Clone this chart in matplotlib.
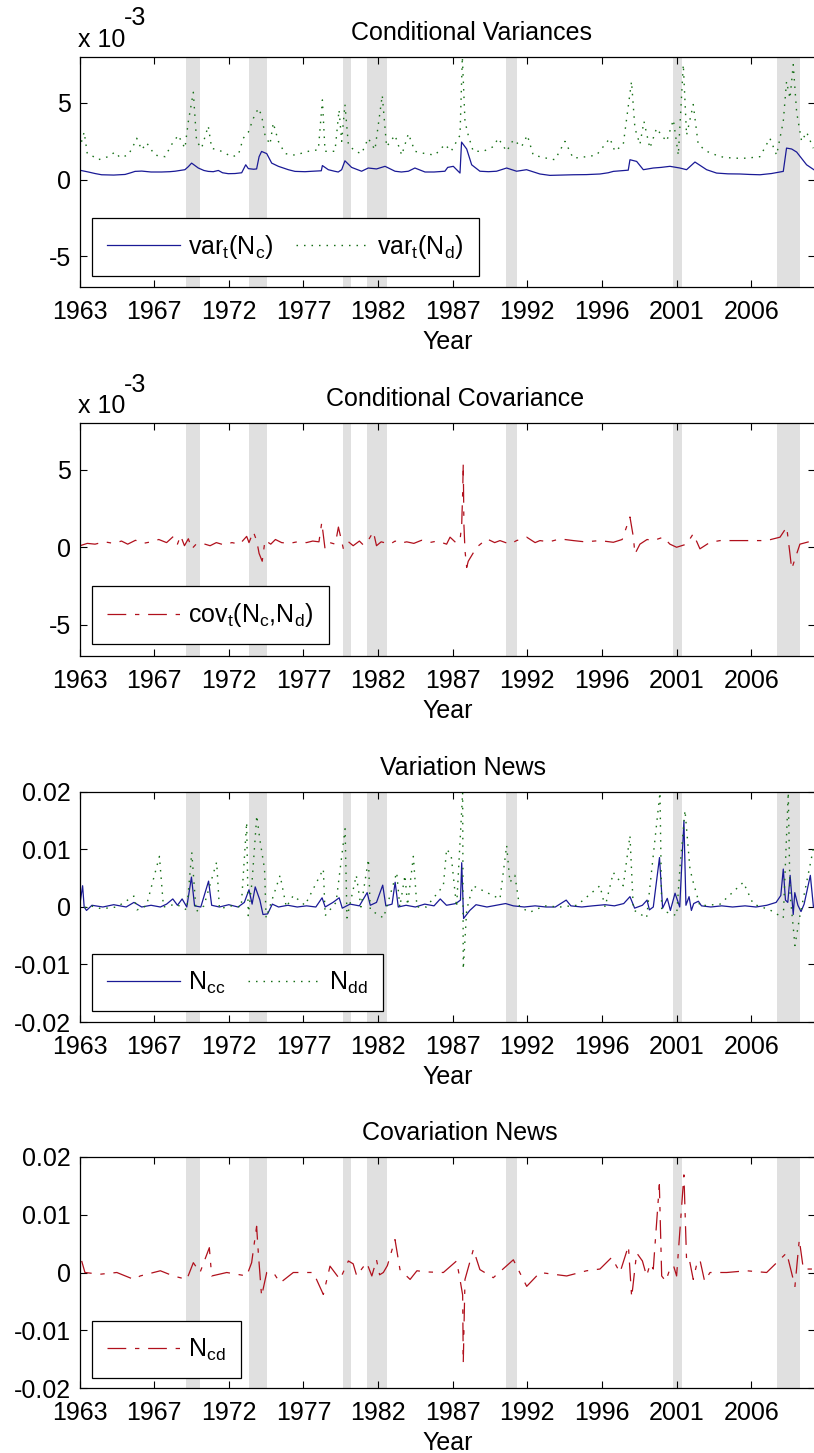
#!/usr/bin/env python3
"""Conditional variances / covariance and news terms, 1963-2010 (MATLAB-style panels)."""

import matplotlib
matplotlib.use("Agg")
import matplotlib.pyplot as plt
from matplotlib.ticker import FixedLocator, FixedFormatter

plt.rcParams["font.family"] = ["Liberation Sans", "DejaVu Sans"]
plt.rcParams["mathtext.fontset"] = "custom"
plt.rcParams["mathtext.rm"] = "Liberation Sans"
plt.rcParams["mathtext.it"] = "Liberation Sans:italic"

# --- recession bands (decimal years) ---
REC_START = [1969.85, 1973.87, 1979.95, 1981.5, 1990.45, 2001.15, 2007.85]
REC_END = [1970.75, 1975.08, 1980.45, 1982.8, 1991.15, 2001.75, 2009.35]

# x tick labels (equally spaced observation ticks)
TICK_LABELS = ["1963", "1967", "1972", "1977", "1982", "1987", "1992", "1996", "2001", "2006"]
TICK_POS = [1963.0, 1967.8, 1972.6, 1977.4, 1982.2, 1987.0, 1991.8, 1996.6, 2001.4, 2006.2]

# --- panel 1: conditional variances (x 1e-3) ---
VARC_X = [1963.0, 1963.57, 1964.0, 1964.42, 1965.2, 1965.93, 1966.3, 1966.57, 1967.0, 1967.6,
          1968.28, 1968.8, 1969.14, 1969.78, 1970.0, 1970.21, 1970.64, 1971.0, 1971.28, 1971.6,
          1971.93, 1972.2, 1972.57, 1973.0, 1973.43, 1973.69, 1973.86, 1974.2, 1974.39, 1974.55,
          1974.71, 1975.04, 1975.36, 1975.79, 1976.43, 1976.86, 1977.5, 1978.0, 1978.55, 1978.62,
          1979.0, 1979.4, 1979.64, 1979.86, 1980.07, 1980.5, 1981.14, 1981.57, 1982.1, 1982.65,
          1983.29, 1983.7, 1984.15, 1984.57, 1985.22, 1985.8, 1986.5, 1986.68, 1987.04, 1987.47,
          1987.57, 1987.9, 1988.22, 1988.75, 1989.3, 1989.82, 1990.47, 1991.11, 1991.75, 1992.61,
          1993.25, 1994.0, 1994.75, 1995.6, 1996.47, 1997.0, 1997.33, 1998.29, 1998.4, 1998.83,
          1999.26, 1999.9, 2000.4, 2000.97, 2001.61, 2002.04, 2002.58, 2003.33, 2003.97, 2004.7,
          2005.47, 2006.1, 2006.76, 2007.5, 2008.26, 2008.47, 2008.8, 2009.12, 2009.76, 2010.3]
VARC_Y = [0.62, 0.5, 0.4, 0.32, 0.3, 0.34, 0.45, 0.54, 0.56, 0.5,
          0.5, 0.52, 0.55, 0.65, 0.85, 1.08, 0.76, 0.6, 0.54, 0.52,
          0.6, 0.45, 0.39, 0.4, 0.45, 0.97, 0.72, 0.68, 0.7, 1.5,
          1.84, 1.7, 1.08, 0.87, 0.65, 0.54, 0.52, 0.55, 0.58, 0.92,
          0.65, 0.55, 0.5, 0.65, 1.23, 0.8, 0.55, 0.76, 0.7, 0.87,
          0.55, 0.5, 0.55, 0.76, 0.5, 0.5, 0.55, 0.8, 0.87, 0.43,
          2.45, 2.0, 0.97, 0.55, 0.52, 0.55, 0.76, 0.55, 0.65, 0.37,
          0.28, 0.3, 0.32, 0.33, 0.37, 0.45, 0.54, 0.62, 1.3, 1.19,
          0.65, 0.76, 0.8, 0.87, 0.76, 0.65, 1.15, 0.65, 0.43, 0.38,
          0.37, 0.34, 0.32, 0.4, 0.54, 2.06, 2.0, 1.8, 0.97, 0.6]

VARD_X = [1963.0, 1963.3, 1963.5, 1963.75, 1964.2, 1964.85, 1965.28, 1965.6, 1966.14, 1966.5,
          1966.68, 1967.0, 1967.32, 1967.85, 1968.5, 1968.93, 1969.35, 1969.78, 1970.0, 1970.32,
          1970.53, 1970.85, 1971.28, 1971.5, 1972.14, 1972.78, 1973.21, 1973.53, 1973.86, 1974.18,
          1974.5, 1974.71, 1974.93, 1975.25, 1975.46, 1975.79, 1976.22, 1976.86, 1977.72, 1978.36,
          1978.62, 1978.79, 1979.43, 1979.69, 1979.86, 1980.07, 1980.29, 1980.72, 1981.14, 1981.57,
          1982.0, 1982.47, 1982.75, 1983.29, 1983.72, 1984.15, 1984.57, 1985.22, 1985.86, 1986.5,
          1986.9, 1987.47, 1987.62, 1987.79, 1988.0, 1988.32, 1988.97, 1989.61, 1989.93, 1990.47,
          1990.9, 1991.43, 1991.8, 1992.18, 1993.04, 1993.58, 1994.22, 1994.75, 1995.61, 1996.25,
          1997.11, 1997.43, 1997.97, 1998.5, 1998.72, 1999.04, 1999.3, 1999.68, 2000.11, 2000.43,
          2000.76, 2001.19, 2001.51, 2001.83, 2002.04, 2002.47, 2002.79, 2003.33, 2004.19, 2005.04,
          2005.9, 2006.76, 2007.4, 2007.83, 2008.26, 2008.47, 2008.69, 2008.9, 2009.12, 2009.44,
          2009.76, 2010.19]
VARD_Y = [2.0, 3.1, 1.7, 1.6, 1.3, 1.5, 1.8, 1.45, 1.6, 2.3,
          2.7, 1.95, 2.4, 1.6, 1.5, 2.3, 2.9, 2.05, 3.8, 5.7,
          2.5, 2.05, 3.5, 2.05, 1.85, 1.5, 1.6, 2.7, 3.1, 4.0,
          4.65, 4.2, 2.9, 2.3, 3.7, 2.5, 1.7, 1.6, 1.85, 1.95,
          5.2, 1.85, 1.85, 4.55, 2.5, 4.9, 2.3, 1.85, 1.7, 2.7,
          1.95, 5.5, 2.15, 2.9, 1.6, 3.0, 1.85, 1.7, 1.6, 2.3,
          1.85, 2.9, 8.0, 3.8, 2.9, 1.85, 1.85, 2.15, 2.7, 1.85,
          2.6, 2.15, 2.9, 1.6, 1.4, 1.3, 2.5, 1.4, 1.5, 1.6,
          2.7, 1.85, 2.3, 6.4, 3.35, 2.3, 3.8, 2.05, 3.35, 2.9,
          2.5, 3.9, 1.6, 7.5, 2.9, 4.9, 2.3, 1.85, 1.5, 1.4,
          1.4, 1.5, 2.7, 1.6, 3.8, 6.4, 5.3, 7.5, 4.4, 2.5,
          3.1, 2.05]

# --- panel 2: conditional covariance (x 1e-3) ---
COV_X = [1963.03, 1963.5, 1964.0, 1964.6, 1965.2, 1965.7, 1966.1, 1966.6, 1967.1, 1967.6,
         1968.1, 1968.6, 1969.04, 1969.3, 1969.5, 1969.75, 1970.0, 1970.22, 1970.5, 1970.9,
         1971.4, 1971.8, 1972.3, 1972.8, 1973.3, 1973.75, 1973.9, 1974.18, 1974.4, 1974.55,
         1974.75, 1974.93, 1975.3, 1975.6, 1976.0, 1976.5, 1977.0, 1977.6, 1978.0, 1978.4,
         1978.58, 1978.79, 1979.1, 1979.45, 1979.65, 1979.97, 1980.3, 1980.6, 1981.0, 1981.25,
         1981.6, 1981.9, 1982.1, 1982.4, 1982.97, 1983.3, 1983.61, 1984.04, 1984.5, 1985.0,
         1985.5, 1986.0, 1986.61, 1986.83, 1987.2, 1987.47, 1987.58, 1987.64, 1987.68, 1987.72,
         1987.79, 1987.9, 1988.0, 1988.54, 1989.2, 1989.7, 1990.04, 1990.68, 1991.11, 1991.76,
         1992.3, 1992.61, 1993.2, 1993.9, 1994.76, 1995.5, 1996.47, 1997.33, 1997.9, 1998.4,
         1998.62, 1998.72, 1999.04, 1999.5, 1999.9, 2000.54, 2000.97, 2001.4, 2002.04, 2002.47,
         2002.9, 2003.55, 2004.2, 2005.1, 2006.1, 2007.19, 2008.05, 2008.48, 2008.69, 2008.8,
         2009.12, 2009.33, 2010.19]
COV_Y = [0.1, 0.25, 0.2, 0.35, 0.25, 0.4, 0.2, 0.45, 0.25, 0.35,
         0.5, 0.3, 0.7, 0.2, 0.75, 0.1, 0.55, -0.1, 0.2, 0.25,
         0.1, 0.3, 0.15, 0.3, 0.2, 0.7, 0.3, 1.0, 0.4, -0.4,
         -0.9, 0.45, 0.2, 0.5, 0.3, 0.25, 0.35, 0.3, 0.4, 0.35,
         1.6, -0.1, 0.3, 0.2, 1.3, -0.1, 0.35, 0.1, 0.4, 0.15,
         0.5, 1.0, 0.1, 0.35, 0.2, 0.4, 0.25, 0.35, 0.25, 0.45,
         0.3, 0.4, 0.2, 0.65, 0.3, 0.43, 1.5, 3.45, 5.4, 1.5,
         -0.2, -1.3, -0.9, 0.0, 0.54, 0.3, 0.43, 0.2, 0.43, 0.65,
         0.3, 0.43, 0.35, 0.54, 0.43, 0.35, 0.43, 0.32, 0.5, 1.95,
         0.65, -0.43, 0.2, 0.5, 0.43, 0.65, 0.2, 0.0, 0.2, 0.87,
         -0.1, 0.32, 0.43, 0.43, 0.43, 0.43, 0.65, 1.3, -0.43, -1.4,
         -0.43, 0.2, 0.43]

# --- panel 3: variation news ---
NCC_X = [1963.0, 1963.2, 1963.3, 1963.45, 1963.8, 1964.5, 1965.2, 1966.0, 1966.5, 1967.0,
         1967.6, 1968.2, 1968.6, 1969.0, 1969.3, 1969.6, 1969.9, 1970.2, 1970.4, 1970.8,
         1971.3, 1971.5, 1972.0, 1972.6, 1973.2, 1973.6, 1973.9, 1974.1, 1974.3, 1974.6,
         1974.8, 1975.1, 1975.4, 1975.8, 1976.4, 1977.0, 1977.6, 1978.2, 1978.6, 1978.8,
         1979.3, 1979.7, 1979.9, 1980.4, 1981.0, 1981.5, 1981.7, 1982.1, 1982.5, 1982.7,
         1983.1, 1983.3, 1983.5, 1984.0, 1984.6, 1985.2, 1985.8, 1986.2, 1986.6, 1987.2,
         1987.5, 1987.58, 1987.7, 1988.1, 1988.5, 1989.2, 1989.8, 1990.4, 1990.9, 1991.6,
         1992.3, 1993.0, 1993.6, 1994.3, 1994.6, 1995.3, 1996.0, 1996.8, 1997.4, 1998.0,
         1998.4, 1998.7, 1999.2, 1999.5, 1999.65, 1999.9, 2000.3, 2000.5, 2000.8, 2001.0,
         2001.3, 2001.6, 2001.87, 2002.0, 2002.2, 2002.35, 2002.5, 2002.8, 2003.0, 2003.6,
         2004.3, 2005.0, 2005.8, 2006.5, 2007.2, 2007.8, 2008.1, 2008.26, 2008.4, 2008.55,
         2008.7, 2008.9, 2009.0, 2009.2, 2009.4, 2009.6, 2010.0, 2010.2]
NCC_Y = [0.0, 0.0037, 0.0, -0.0006, 0.0003, 0.0, 0.0004, 0.0, 0.0008, 0.0,
         0.0003, 0.0, 0.0005, 0.0014, 0.0003, 0.0014, 0.0, 0.0052, 0.0002, 0.0,
         0.0045, 0.0003, 0.0, 0.0004, 0.0, 0.0008, 0.003, 0.0005, 0.0035, 0.0012,
         -0.0013, -0.0012, 0.0005, 0.0, 0.0003, 0.0, 0.0002, 0.0, 0.0016, 0.0,
         0.0008, 0.0016, -0.0002, 0.0005, 0.0002, 0.0025, 0.0003, 0.0008, 0.0038, 0.0002,
         0.0005, 0.0043, 0.0, 0.0003, 0.0, 0.0005, 0.0002, 0.0014, 0.0003, 0.0006,
         0.0012, 0.0077, -0.002, -0.0006, 0.0004, 0.0, 0.0003, 0.0006, 0.0002, 0.0,
         0.0002, 0.0, 0.0, 0.0012, 0.0002, 0.0, 0.0002, 0.0004, 0.0002, 0.0006,
         0.0018, -0.0002, 0.0003, 0.0012, -0.0005, 0.0, 0.0086, -0.0002, 0.0015, -0.0006,
         0.0024, 0.0, 0.015, 0.0003, 0.0018, -0.0006, 0.0006, 0.001, 0.0002, 0.0,
         0.0002, 0.0, 0.0002, 0.0, 0.0003, 0.0008, 0.002, 0.0066, 0.0012, 0.0008,
         0.0055, -0.0013, 0.0025, 0.0003, -0.0008, 0.0005, 0.0055, 0.0]

NDD_X = [1963.0, 1963.15, 1963.6, 1964.4, 1965.4, 1966.5, 1966.7, 1967.3, 1968.14, 1968.4,
         1969.2, 1969.9, 1970.22, 1970.5, 1971.0, 1971.82, 1972.0, 1972.8, 1973.4, 1973.75,
         1973.85, 1974.1, 1974.4, 1974.6, 1974.9, 1975.0, 1975.9, 1976.3, 1976.75, 1977.5,
         1978.68, 1978.8, 1979.5, 1980.08, 1980.2, 1980.8, 1981.1, 1981.58, 1981.7, 1982.55,
         1983.4, 1983.6, 1983.93, 1984.1, 1984.47, 1984.7, 1985.3, 1986.4, 1986.61, 1986.9,
         1987.25, 1987.64, 1987.68, 1987.9, 1988.3, 1990.04, 1990.47, 1990.68, 1991.0, 1991.3,
         1991.97, 1992.9, 1993.9, 1995.0, 1996.47, 1996.8, 1997.33, 1997.97, 1998.4, 1998.62,
         1999.47, 2000.33, 2000.44, 2000.76, 2001.4, 2001.62, 2001.94, 2002.26, 2002.47, 2002.9,
         2004.2, 2005.69, 2006.33, 2007.4, 2008.26, 2008.58, 2008.69, 2009.01, 2009.33, 2010.19]
NDD_Y = [0.0, -0.0005, 0.0003, -0.0003, 0.0, 0.0019, -0.0005, 0.0002, 0.0088, 0.0,
         0.0005, -0.0005, 0.0095, -0.0008, 0.0002, 0.0078, -0.0003, 0.0002, 0.0, 0.0147,
         -0.0015, 0.0045, 0.0159, 0.0117, 0.0066, -0.0019, 0.0055, 0.0, 0.002, 0.0003,
         0.0066, -0.0015, 0.0008, 0.0136, -0.0019, 0.0055, 0.0, 0.0083, -0.0005, -0.0019,
         0.006, 0.0, 0.0055, 0.0003, 0.0088, 0.0, 0.0, 0.0037, 0.0101, 0.009,
         0.0, 0.0199, -0.0108, -0.0005, 0.0037, 0.0014, 0.0107, 0.0043, 0.0055, 0.0,
         -0.0009, 0.0002, 0.0, 0.0003, 0.0037, 0.0, 0.006, 0.0037, 0.0124, -0.0005,
         -0.0019, 0.0199, -0.0004, -0.0009, -0.0015, 0.007, 0.0168, 0.0066, 0.0043, 0.0002,
         0.0005, 0.0043, 0.0005, -0.0005, -0.0019, 0.0199, 0.0025, -0.0067, -0.0015, 0.0101]

# --- panel 4: covariation news ---
NCD_X = [1963.14, 1963.35, 1964.32, 1965.4, 1966.5, 1966.9, 1968.2, 1969.04, 1969.9, 1970.32,
         1970.75, 1971.35, 1971.5, 1972.47, 1973.75, 1974.07, 1974.39, 1974.5, 1974.71, 1975.04,
         1975.47, 1975.9, 1976.75, 1978.04, 1978.68, 1979.11, 1979.75, 1980.29, 1980.6, 1980.83,
         1981.2, 1981.47, 1981.8, 1982.1, 1982.3, 1982.54, 1982.8, 1983.29, 1983.61, 1984.26,
         1984.7, 1985.3, 1986.4, 1987.25, 1987.47, 1987.64, 1987.68, 1987.79, 1988.33, 1988.75,
         1989.61, 1990.9, 1991.76, 1992.61, 1994.33, 1995.61, 1996.47, 1997.22, 1997.76, 1998.3,
         1998.51, 1998.83, 1999.2, 1999.47, 1999.7, 1999.9, 2000.29, 2000.44, 2000.7, 2000.97,
         2001.2, 2001.4, 2001.87, 2002.04, 2002.2, 2002.47, 2002.7, 2002.9, 2003.2, 2003.55,
         2004.62, 2005.9, 2007.19, 2008.48, 2009.01, 2009.29, 2009.55, 2010.19]
NCD_Y = [0.002, 0.0, -0.0003, 0.0, -0.0012, -0.0006, 0.0003, -0.0006, -0.0012, 0.0017,
         0.0, 0.0043, -0.0006, 0.0, -0.0006, 0.0017, 0.008, 0.0034, -0.0041, 0.0,
         0.0, -0.0018, 0.0, 0.0, -0.0038, 0.0011, -0.0012, 0.002, 0.0015, -0.0006,
         0.0008, 0.0017, -0.0006, 0.0022, -0.0004, 0.0, 0.0012, 0.0057, 0.0005, -0.0012,
         0.0003, 0.0001, 0.0, 0.002, -0.0012, -0.0039, -0.0156, -0.0012, 0.004, 0.0005,
         -0.0009, 0.0022, -0.0024, 0.0, -0.0006, 0.0003, 0.0006, 0.0026, 0.0, 0.0046,
         -0.0043, 0.0034, 0.002, -0.0006, 0.0015, 0.0006, 0.0152, -0.0006, -0.0015, 0.0006,
         0.0012, -0.0006, 0.0169, 0.0022, 0.0025, -0.0012, 0.0015, 0.0022, -0.0015, 0.0,
         0.0, 0.0003, 0.0, 0.0034, -0.0024, 0.0057, 0.0006, 0.0006]

BLUE = "#1a1a96"
GREEN = "#177017"
RED = "#b0101c"
BAND = "#e0e0e0"
FS = 18

W, H = 814, 1453
AX_LEFT, AX_RIGHT = 79.5, 815.0
AX_TOPS = [57, 423, 792, 1157]
AX_BOTTOMS = [287, 656, 1022, 1388]
TITLE_X = [0.533, 0.51, 0.521, 0.517]


def px_axes(fig, top, bottom):
    return fig.add_axes([AX_LEFT / W, 1 - bottom / H, (AX_RIGHT - AX_LEFT) / W, (bottom - top) / H])


def style(ax, ylim, yticks, ylabels):
    for s, e in zip(REC_START, REC_END):
        ax.axvspan(s, e, color=BAND, lw=0, zorder=0)
    ax.set_xlim(1963.0, 2010.3)
    ax.set_ylim(*ylim)
    ax.xaxis.set_major_locator(FixedLocator(TICK_POS))
    ax.xaxis.set_major_formatter(FixedFormatter(TICK_LABELS))
    ax.yaxis.set_major_locator(FixedLocator(yticks))
    ax.yaxis.set_major_formatter(FixedFormatter(ylabels))
    ax.tick_params(direction="in", length=5, width=0.8, top=True, right=True, labelsize=FS)
    ax.tick_params(axis="x", pad=9.5)
    ax.tick_params(axis="y", pad=6)
    for sp in ax.spines.values():
        sp.set_linewidth(0.9)
    ax.set_xlabel("Year", fontsize=FS, labelpad=4)


def legend(ax, ncol, x0, y0):
    leg = ax.legend(loc="lower left", bbox_to_anchor=(x0, y0), ncol=ncol, fontsize=FS,
                    frameon=True, fancybox=False, edgecolor="black", framealpha=1,
                    borderaxespad=0, handlelength=2.9, handletextpad=0.35,
                    columnspacing=0.9, borderpad=0.6)
    leg.get_frame().set_linewidth(0.9)


def main() -> None:
    fig = plt.figure(figsize=(W / 100, H / 100), dpi=100)
    dot = (0, (1.1, 4.3))
    dashdot = (0, (15, 7, 3.5, 7))
    axes = [px_axes(fig, t, b) for t, b in zip(AX_TOPS, AX_BOTTOMS)]

    # panel 1
    ax = axes[0]
    ax.plot(VARC_X, VARC_Y, color=BLUE, lw=0.9, label=r"var$_\mathrm{t}$(N$_\mathrm{c}$)")
    ax.plot(VARD_X, VARD_Y, color=GREEN, lw=1.0, ls=dot, label=r"var$_\mathrm{t}$(N$_\mathrm{d}$)")
    style(ax, (-7, 8), [-5, 0, 5], ["-5", "0", "5"])
    ax.set_title("Conditional Variances", fontsize=FS, pad=12, x=TITLE_X[0])
    legend(ax, 2, 0.017, 0.048)

    # panel 2
    ax = axes[1]
    ax.plot(COV_X, COV_Y, color=RED, lw=0.9, ls=dashdot,
            label=r"cov$_\mathrm{t}$(N$_\mathrm{c}$,N$_\mathrm{d}$)")
    style(ax, (-7, 8), [-5, 0, 5], ["-5", "0", "5"])
    ax.set_title("Conditional Covariance", fontsize=FS, pad=12, x=TITLE_X[1])
    legend(ax, 1, 0.017, 0.05)

    # panel 3
    ax = axes[2]
    ax.plot(NCC_X, NCC_Y, color=BLUE, lw=0.9, label=r"N$_\mathrm{cc}$")
    ax.plot(NDD_X, NDD_Y, color=GREEN, lw=1.0, ls=dot, label=r"N$_\mathrm{dd}$")
    style(ax, (-0.02, 0.02), [-0.02, -0.01, 0, 0.01, 0.02],
          ["-0.02", "-0.01", "0", "0.01", "0.02"])
    ax.set_title("Variation News", fontsize=FS, pad=12, x=TITLE_X[2])
    legend(ax, 2, 0.017, 0.05)

    # panel 4
    ax = axes[3]
    ax.plot(NCD_X, NCD_Y, color=RED, lw=0.9, ls=dashdot, label=r"N$_\mathrm{cd}$")
    style(ax, (-0.02, 0.02), [-0.02, -0.01, 0, 0.01, 0.02],
          ["-0.02", "-0.01", "0", "0.01", "0.02"])
    ax.set_title("Covariation News", fontsize=FS, pad=12, x=TITLE_X[3])
    legend(ax, 1, 0.017, 0.045)

    # MATLAB-style exponent labels
    for base_y, sup_y in [(47, 25), (413, 392)]:
        fig.text(78 / W, 1 - base_y / H, "x 10", fontsize=FS, va="baseline")
        fig.text(124 / W, 1 - sup_y / H, "-3", fontsize=FS, va="baseline")

    fig.savefig("out.png", dpi=100)


if __name__ == "__main__":
    main()
